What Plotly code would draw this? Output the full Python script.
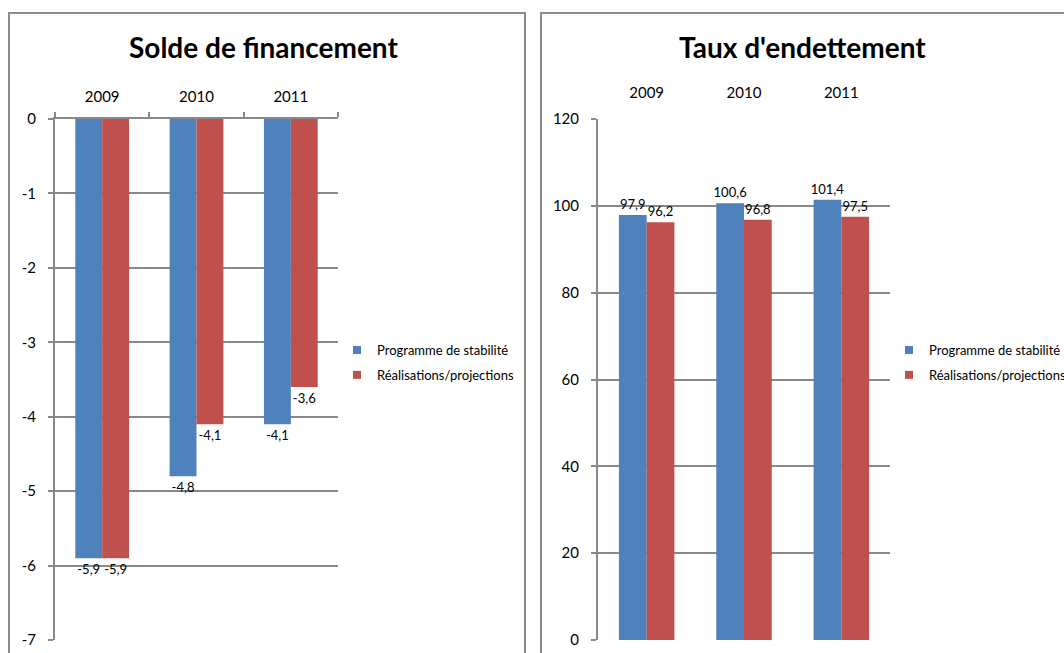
import plotly.graph_objects as go

years = ["2009", "2010", "2011"]
solde_programme = [-5.9, -4.8, -4.1]
solde_realise = [-5.9, -4.1, -3.6]
dette_programme = [97.9, 100.6, 101.4]
dette_realise = [96.2, 96.8, 97.5]
solde_ticks = [-7, -6, -5, -4, -3, -2, -1, 0]
dette_ticks = [0, 20, 40, 60, 80, 100, 120]
series_names = ["Programme de stabilité", "Réalisations/projections"]
blue = "#4F81BD"
red = "#C0504D"

W, H = 1064, 653
FONT = "Lato"
GRID = "#898989"


def px_x(v):
    return v / W


def px_y(v):
    return 1 - v / H


def fr(v):
    # French decimal comma, plain hyphen for negatives
    return f"{v:.1f}".replace(".", ",")


fig = go.Figure()

label_font = dict(size=13, color="black", family=FONT)
common = dict(textposition="outside", cliponaxis=False, constraintext="none",
              textfont=label_font, marker_line_width=0, showlegend=False)

fig.add_bar(x=years, y=solde_programme, text=[fr(v) for v in solde_programme],
            name=series_names[0], marker_color=blue, xaxis="x", yaxis="y", **common)
fig.add_bar(x=years, y=solde_realise, text=[fr(v) for v in solde_realise],
            name=series_names[1], marker_color=red, xaxis="x", yaxis="y", **common)
fig.add_bar(x=years, y=dette_programme, text=[fr(v) for v in dette_programme],
            name=series_names[0], marker_color=blue, xaxis="x2", yaxis="y2", **common)
fig.add_bar(x=years, y=dette_realise, text=[fr(v) for v in dette_realise],
            name=series_names[1], marker_color=red, xaxis="x2", yaxis="y2", **common)

# legend entries with small square keys
for leg, xa, ya in (("legend", "x", "y"), ("legend2", "x2", "y2")):
    for i, (nm, col) in enumerate(zip(series_names, [blue, red])):
        fig.add_scatter(x=[None], y=[None], mode="markers", name=nm,
                        marker=dict(symbol="square", size=8, color=col),
                        xaxis=xa, yaxis=ya, legend=leg, legendgroup=f"{leg}{i}")

ydom = [px_y(640), px_y(119)]
left_dom = [px_x(55), px_x(338)]
right_dom = [px_x(598), px_x(890)]

axis_font = dict(size=15, color="black", family=FONT)
line_kw = dict(showline=True, linecolor=GRID, linewidth=2,
               ticks="outside", ticklen=5, tickwidth=2, tickcolor=GRID, automargin=False)

fig.update_layout(
    width=W, height=H,
    margin=dict(l=0, r=0, t=0, b=0, autoexpand=False),
    paper_bgcolor="white", plot_bgcolor="white",
    barmode="group", bargap=0.43, bargroupgap=0,
    font=dict(family=FONT, color="black"),
    xaxis=dict(domain=left_dom, anchor="y", side="top", type="category",
               tickson="boundaries", showgrid=False, tickfont=axis_font,
               ticklabelstandoff=9, **line_kw),
    yaxis=dict(domain=ydom, anchor="x", range=[-7, 0],
               tickvals=solde_ticks, ticktext=[str(t) for t in solde_ticks],
               showgrid=True, gridcolor=GRID, gridwidth=2, zeroline=False,
               tickfont=axis_font, ticklabelstandoff=9, **line_kw),
    xaxis2=dict(domain=right_dom, anchor="y2", side="top", type="category",
                showline=False, ticks="", showgrid=False, tickfont=axis_font,
                ticklabelstandoff=17, automargin=False),
    xaxis3=dict(domain=right_dom, anchor="y2", overlaying="x2", side="bottom",
                range=[-0.5, 2.5], tickvals=[-0.5, 0.5, 1.5, 2.5], showticklabels=False,
                showgrid=False, **line_kw),
    yaxis2=dict(domain=ydom, anchor="x2", range=[0, 120],
                tickvals=dette_ticks, ticktext=[str(t) for t in dette_ticks],
                showgrid=True, gridcolor=GRID, gridwidth=2, zeroline=False,
                tickfont=axis_font, ticklabelstandoff=9, **line_kw),
    legend=dict(x=px_x(337), y=px_y(335), xanchor="left", yanchor="top",
                font=dict(size=13, family=FONT, color="black"), tracegroupgap=5,
                bgcolor="rgba(0,0,0,0)", itemwidth=30),
    legend2=dict(x=px_x(889), y=px_y(335), xanchor="left", yanchor="top",
                 font=dict(size=13, family=FONT, color="black"), tracegroupgap=5,
                 bgcolor="rgba(0,0,0,0)", itemwidth=30),
    annotations=[
        dict(text="<b>Solde de financement</b>", x=px_x(263), y=px_y(47),
             xref="paper", yref="paper", xanchor="center", yanchor="middle",
             showarrow=False, font=dict(size=28, family=FONT, color="black")),
        dict(text="<b>Taux d'endettement</b>", x=px_x(802), y=px_y(47),
             xref="paper", yref="paper", xanchor="center", yanchor="middle",
             showarrow=False, font=dict(size=28, family=FONT, color="black")),
    ],
    shapes=[
        dict(type="rect", xref="paper", yref="paper", x0=px_x(9), x1=px_x(525),
             y0=-0.05, y1=px_y(13), line=dict(color="#8c8c8c", width=2)),
        dict(type="rect", xref="paper", yref="paper", x0=px_x(541), x1=1.05,
             y0=-0.05, y1=px_y(13), line=dict(color="#8c8c8c", width=2)),
    ],
)

fig.write_html("out.html")
